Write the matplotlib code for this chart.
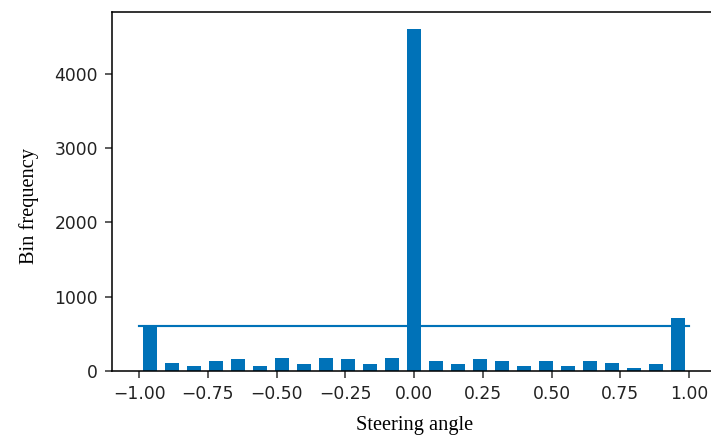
import matplotlib
matplotlib.use("Agg")
import matplotlib.pyplot as plt
import numpy as np

# 25 bins over the steering range, counts
bin_edges = np.linspace(-1, 1, 26)
bin_counts = [600, 112, 67, 139, 157, 67, 180, 90, 180, 157, 90, 180,
              4600,
              135, 90, 157, 135, 67, 135, 67, 135, 112, 45, 90, 710]
samples_per_bin = 600
angle_range = (-1.0, 1.0)

centers = (bin_edges[:-1] + bin_edges[1:]) * 0.5
blue = "#0072b8"

fig = plt.figure(figsize=(711 / 140, 439 / 140), dpi=140)
ax = fig.add_axes([0.157, 0.155, 0.851, 0.818])

ax.bar(centers, bin_counts, width=0.05, color=blue)
ax.plot(angle_range, (samples_per_bin, samples_per_bin), color=blue, lw=1.1)

ax.set_xlim(-1.1, 1.1)
ax.set_xticks(np.arange(-1.0, 1.01, 0.25))
ax.tick_params(colors="#333333", labelcolor="#222222", labelsize=8.8)

serif = {"family": "Liberation Serif", "size": 10.5}
ax.set_xlabel("Steering angle", fontdict=serif, labelpad=7)
ax.set_ylabel("Bin frequency", fontdict=serif)
ax.yaxis.set_label_coords(-0.12, 0.46)

fig.savefig("out.png", dpi=140)
